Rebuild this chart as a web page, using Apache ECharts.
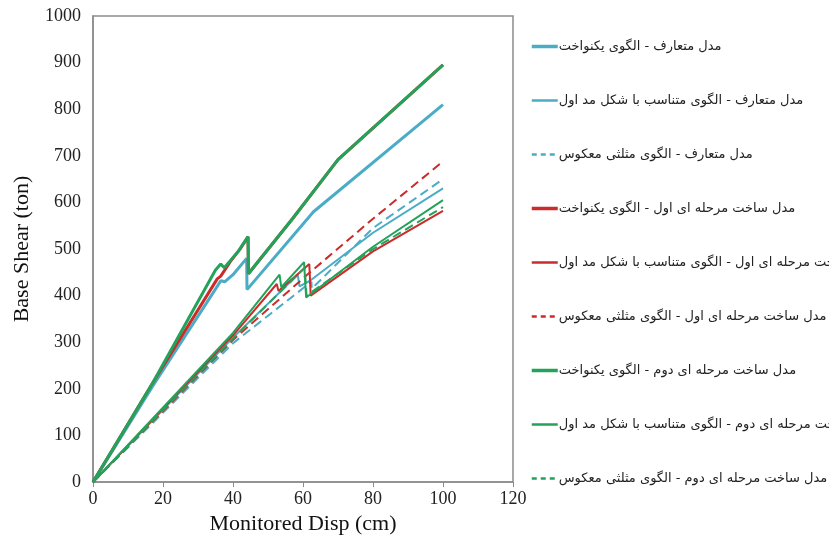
<!DOCTYPE html>
<html><head><meta charset="utf-8">
<script src="https://cdn.jsdelivr.net/npm/echarts@6/dist/echarts.min.js"></script>
<style>html,body{margin:0;padding:0;background:#fff}#c{width:829px;height:540px}</style>
</head><body><div id="c"></div>
<script>
// Series names (legend)
const names = [
  'مدل متعارف - الگوی یکنواخت',
  'مدل متعارف - الگوی متناسب با شکل مد اول',
  'مدل متعارف - الگوی مثلثی معکوس',
  'مدل ساخت مرحله ای اول - الگوی یکنواخت',
  'مدل ساخت مرحله ای اول - الگوی متناسب با شکل مد اول',
  'مدل ساخت مرحله ای اول - الگوی مثلثی معکوس',
  'مدل ساخت مرحله ای دوم - الگوی یکنواخت',
  'مدل ساخت مرحله ای دوم - الگوی متناسب با شکل مد اول',
  'مدل ساخت مرحله ای دوم - الگوی مثلثی معکوس'
];
// [disp (cm), base shear (ton)]
const convUniform = [[0,0],[17,205],[35.5,420],[36.5,432],[37.7,430],[40,445],[43.9,480],[44,413],[63,580],[100,810]];
const convMode    = [[0,0],[40,310],[58.5,445],[59,420],[62,432],[80,535],[100,630]];
const convTri     = [[0,0],[40,298],[62.4,430],[62.5,415],[80,545],[100,650]];
const st1Uniform  = [[0,0],[17,212],[35.5,436],[36.5,442],[39.5,476],[42,500],[44.3,526],[44.4,447],[57,565],[70,692],[100,895]];
const st1Mode     = [[0,0],[40,315],[52.5,425],[53,410],[61.8,468],[62.2,400],[80,495],[100,582]];
const st1Tri      = [[0,0],[40,305],[62,450],[80,565],[100,688]];
const st2Uniform  = [[0,0],[17,212],[35,455],[36.5,468],[37.5,460],[41.5,495],[44.3,527],[44.4,447],[57,565],[70,692],[100,895]];
const st2Mode     = [[0,0],[40,320],[53.3,445],[53.8,418],[60.3,472],[60.9,396],[80,505],[100,605]];
const st2Tri      = [[0,0],[40,308],[60.5,460],[61,400],[80,500],[100,590]];
const xTicks = [0,20,40,60,80,100,120];
const yTicks = [0,100,200,300,400,500,600,700,800,900,1000];

const BLUE='#4bacc6', RED='#cc2b2b', GREEN='#23a35a';
const datasets=[convUniform,convMode,convTri,st1Uniform,st1Mode,st1Tri,st2Uniform,st2Mode,st2Tri];
const colors=[BLUE,BLUE,BLUE,RED,RED,RED,GREEN,GREEN,GREEN];
const widths=[3,2,2,3,2,2,3,2,2];
const types=['solid','solid',[9,5],'solid','solid',[9,5],'solid','solid',[9,5]];

const series = datasets.map((d,i)=>({
  name:names[i], type:'line', data:d, showSymbol:false, symbol:'none',
  lineStyle:{color:colors[i], width:widths[i], type:types[i]},
  itemStyle:{color:colors[i]}, z:2+i, animation:false
}));

const chart = echarts.init(document.getElementById('c'));
chart.setOption({
  backgroundColor:'#fff',
  animation:false,
  grid:{left:93, top:16, right:316, bottom:57, show:true, borderColor:'#8c8c8c', borderWidth:1.5},
  legend:{
    orient:'vertical', left:525, top:35, itemWidth:26, itemHeight:14, itemGap:41,
    itemStyle:{opacity:0},
    textStyle:{fontFamily:'DejaVu Sans', fontSize:13, color:'#222', padding:[0,0,0,-4]},
    data:names.map((n,i)=>({name:n, itemStyle:{opacity:0}, lineStyle:{color:colors[i], width:widths[i]+0.5, type:i%3===2?[5,4]:'solid'}}))
  },
  xAxis:{
    type:'value', min:0, max:120, interval:20,
    name:'Monitored Disp (cm)', nameLocation:'middle', nameGap:28,
    nameTextStyle:{fontFamily:'Liberation Serif', fontSize:22, color:'#111'},
    axisLine:{lineStyle:{color:'#8c8c8c', width:1.5}},
    axisTick:{show:true, length:5, lineStyle:{color:'#8c8c8c'}},
    splitLine:{show:false},
    axisLabel:{fontFamily:'Liberation Serif', fontSize:18, color:'#222', margin:8, formatter:v=>String(v)}
  },
  yAxis:{
    type:'value', min:0, max:1000, interval:100,
    name:'Base Shear (ton)', nameLocation:'middle', nameGap:60,
    nameTextStyle:{fontFamily:'Liberation Serif', fontSize:22, color:'#111'},
    axisLine:{show:true, lineStyle:{color:'#8c8c8c', width:1.5}},
    axisTick:{show:false},
    splitLine:{show:false},
    axisLabel:{fontFamily:'Liberation Serif', fontSize:18, color:'#222', margin:12, formatter:v=>String(v)}
  },
  series: series
});
</script></body></html>
